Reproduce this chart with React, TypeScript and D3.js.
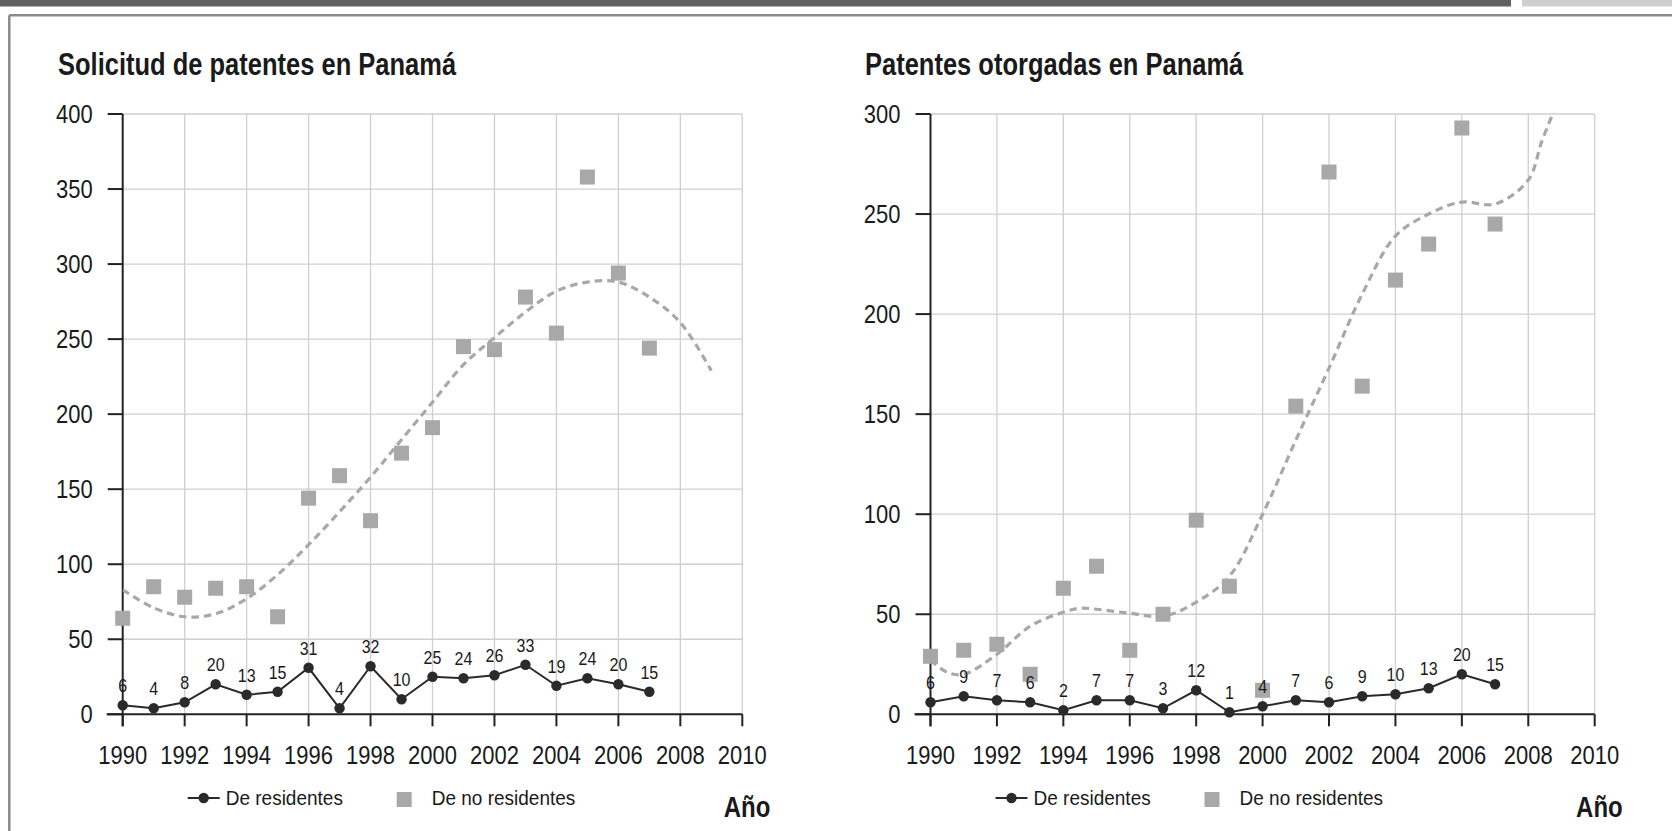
import React from "react";
import * as d3 from "d3";

const years = [1990, 1991, 1992, 1993, 1994, 1995, 1996, 1997, 1998, 1999, 2000, 2001, 2002, 2003, 2004, 2005, 2006, 2007];
const xTicks = [1990, 1992, 1994, 1996, 1998, 2000, 2002, 2004, 2006, 2008, 2010];

// Solicitud de patentes
const solResidentes = [6, 4, 8, 20, 13, 15, 31, 4, 32, 10, 25, 24, 26, 33, 19, 24, 20, 15];
const solNoResidentes = [64, 85, 78, 84, 85, 65, 144, 159, 129, 174, 191, 245, 243, 278, 254, 358, 294, 244];
const solTrendYears = [1990, 1991, 1992, 1993, 1994, 1995, 1996, 1997, 1998, 1999, 2000, 2001, 2002, 2003, 2004, 2005, 2006, 2007, 2008, 2009];
const solTrendValues = [83, 71, 65, 67, 77, 93, 113, 135, 158, 183, 208, 233, 251, 268, 282, 288, 288, 278, 261, 229];
const solYTicks = [0, 50, 100, 150, 200, 250, 300, 350, 400];

// Patentes otorgadas
const otoResidentes = [6, 9, 7, 6, 2, 7, 7, 3, 12, 1, 4, 7, 6, 9, 10, 13, 20, 15];
const otoNoResidentes = [29, 32, 35, 20, 63, 74, 32, 50, 97, 64, 12, 154, 271, 164, 217, 235, 293, 245];
const otoTrendYears = [1990, 1990.5, 1991, 1992, 1993, 1994, 1994.5, 1995, 1996, 1997, 1998, 1999, 2000, 2001, 2002, 2003, 2004, 2005, 2006, 2007, 2008, 2008.4, 2008.76];
const otoTrendValues = [27, 21, 20, 30, 44, 51, 53, 52.5, 50.5, 49, 56, 69, 100, 137, 173, 210, 239, 250, 256, 255, 267, 286, 301];
const otoYTicks = [0, 50, 100, 150, 200, 250, 300];

const FONT = "'Liberation Sans', Arial, Helvetica, sans-serif";

function T(props: { x: number; y: number; size: number; sy?: number; weight?: string; anchor?: string; fill?: string; children: any }) {
  const { x, y, size, sy = 1.1, weight = "normal", anchor = "start", fill = "#1a1a1a", children } = props;
  return (
    <text
      transform={`translate(${x},${y}) scale(1,${sy})`}
      fontSize={size}
      fontWeight={weight}
      textAnchor={anchor}
      fill={fill}
      fontFamily={FONT}
    >
      {children}
    </text>
  );
}

function Chart(props: {
  id: string;
  x0: number;
  x1: number;
  yTop: number;
  yBase: number;
  yMax: number;
  yTicks: number[];
  title: string;
  titleX: number;
  residentes: number[];
  noResidentes: number[];
  trendYears: number[];
  trendValues: number[];
}) {
  const { id, x0, x1, yTop, yBase, yMax, yTicks, title, titleX, residentes, noResidentes, trendYears, trendValues } = props;
  const x = d3.scaleLinear().domain([1990, 2010]).range([x0, x1]);
  const y = d3.scaleLinear().domain([0, yMax]).range([yBase, yTop]);
  const resLine = d3
    .line<number>()
    .x((_, i) => x(years[i]))
    .y((d) => y(d))(residentes) as string;
  const trend = d3
    .line<number>()
    .x((_, i) => x(trendYears[i]))
    .y((d) => y(d))
    .curve(d3.curveCatmullRom.alpha(0.5))(trendValues) as string;
  const grid = "#cfcfcf";
  const axis = "#222";
  const lg = x0; // legend base
  const ly = 798;
  return (
    <g>
      <defs>
        <clipPath id={id}>
          <rect x={x0} y={yTop - 2} width={x1 - x0} height={yBase - yTop + 2} />
        </clipPath>
      </defs>
      <T x={titleX} y={75} size={25.5} weight="bold" sy={1.2}>
        {title}
      </T>
      {/* grid */}
      {yTicks.filter((t) => t > 0).map((t) => (
        <line key={"h" + t} x1={x0} x2={x1} y1={y(t)} y2={y(t)} stroke={grid} strokeWidth={1.3} />
      ))}
      {xTicks.filter((t) => t > 1990).map((t) => (
        <line key={"v" + t} x1={x(t)} x2={x(t)} y1={yTop} y2={yBase} stroke={grid} strokeWidth={1.3} />
      ))}
      {/* axes */}
      <line x1={x0} x2={x0} y1={yTop} y2={yBase + 12} stroke={axis} strokeWidth={2} />
      <line x1={x0 - 16} x2={x1} y1={yBase} y2={yBase} stroke={axis} strokeWidth={2} />
      {yTicks.map((t) => (
        <line key={"yt" + t} x1={x0 - 15} x2={x0} y1={y(t)} y2={y(t)} stroke={axis} strokeWidth={2} />
      ))}
      {xTicks.map((t) => (
        <line key={"xt" + t} x1={x(t)} x2={x(t)} y1={yBase} y2={yBase + 12} stroke={axis} strokeWidth={2} />
      ))}
      {yTicks.map((t) => (
        <T key={"yl" + t} x={x0 - 30} y={y(t) + 9} size={22} anchor="end" sy={1.2}>
          {t}
        </T>
      ))}
      {xTicks.map((t) => (
        <T key={"xl" + t} x={x(t)} y={763.5} size={22} anchor="middle" sy={1.2}>
          {t}
        </T>
      ))}
      {/* trend */}
      <path d={trend} fill="none" stroke="#a8a8a8" strokeWidth={3.2} strokeDasharray="7.5,5" clipPath={`url(#${id})`} />
      {/* non residents */}
      {noResidentes.map((v, i) => (
        <rect key={"s" + i} x={x(years[i]) - 7.5} y={y(v) - 7.5} width={15} height={15} fill="#a8a8a8" />
      ))}
      {/* residents */}
      <path d={resLine} fill="none" stroke="#2a2a2a" strokeWidth={2} />
      {residentes.map((v, i) => (
        <circle key={"c" + i} cx={x(years[i])} cy={y(v)} r={5.2} fill="#2a2a2a" />
      ))}
      {residentes.map((v, i) => (
        <T key={"dl" + i} x={x(years[i])} y={y(v) - 13} size={16} anchor="middle" sy={1.2}>
          {v}
        </T>
      ))}
      {/* legend */}
      <line x1={lg + 65} x2={lg + 97} y1={ly} y2={ly} stroke="#2a2a2a" strokeWidth={2} />
      <circle cx={lg + 81} cy={ly} r={5.2} fill="#2a2a2a" />
      <T x={lg + 103} y={ly + 7} size={19} sy={1.1}>
        De residentes
      </T>
      <rect x={lg + 274} y={ly - 6} width={15} height={15} fill="#a8a8a8" />
      <T x={lg + 309} y={ly + 7} size={19} sy={1.1}>
        De no residentes
      </T>
      <T x={x1 + 28} y={817} size={24} weight="bold" anchor="end" sy={1.25}>
        Año
      </T>
    </g>
  );
}

export default function App() {
  return (
    <svg
      width={1672}
      height={831}
      style={{ position: "absolute", left: 0, top: 0, background: "#fff" }}
      xmlns="http://www.w3.org/2000/svg"
    >
      <rect x={0} y={0} width={1672} height={831} fill="#fff" />
      <rect x={0} y={0} width={1511} height={6.5} fill="#616161" />
      <rect x={1522} y={0} width={150} height={6.5} fill="#cfcfcf" />
      <line x1={9.3} x2={1672} y1={15.3} y2={15.3} stroke="#8a8a8a" strokeWidth={2.5} />
      <line x1={9.3} x2={9.3} y1={15.3} y2={831} stroke="#8a8a8a" strokeWidth={2.5} />
      <Chart
        id="clipA"
        x0={122.7}
        x1={742.3}
        yTop={114}
        yBase={714.3}
        yMax={400}
        yTicks={solYTicks}
        title="Solicitud de patentes en Panamá"
        titleX={58}
        residentes={solResidentes}
        noResidentes={solNoResidentes}
        trendYears={solTrendYears}
        trendValues={solTrendValues}
      />
      <Chart
        id="clipB"
        x0={930.5}
        x1={1594.7}
        yTop={114}
        yBase={714.3}
        yMax={300}
        yTicks={otoYTicks}
        title="Patentes otorgadas en Panamá"
        titleX={865}
        residentes={otoResidentes}
        noResidentes={otoNoResidentes}
        trendYears={otoTrendYears}
        trendValues={otoTrendValues}
      />
    </svg>
  );
}
